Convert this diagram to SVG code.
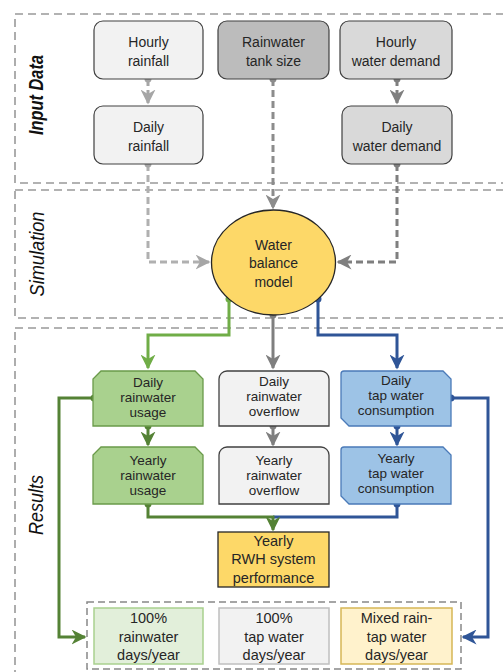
<svg xmlns="http://www.w3.org/2000/svg" width="503" height="672" viewBox="0 0 503 672">
<defs>
<style>
text{font-family:"Liberation Sans",Arial,sans-serif;fill:#262626;text-anchor:middle}
.t{font-size:14px}
.r{font-size:13.5px}
.t2{font-size:14.5px}
.sec{font-size:21px;font-style:italic;fill:#111}
.frame{fill:none;stroke:#999;stroke-width:1.6;stroke-dasharray:8 5}
.c{fill:none;stroke-width:3}
.d{stroke-dasharray:7 4}
</style>
<marker id="aL" viewBox="0 0 10 10" markerUnits="userSpaceOnUse" markerWidth="15" markerHeight="15" refX="9" refY="5" orient="auto"><path d="M0,0 L10,5 L0,10 L3,5 Z" fill="#a6a6a6"/></marker>
<marker id="aM" viewBox="0 0 10 10" markerUnits="userSpaceOnUse" markerWidth="15" markerHeight="15" refX="9" refY="5" orient="auto"><path d="M0,0 L10,5 L0,10 L3,5 Z" fill="#8c8c8c"/></marker>
<marker id="aD" viewBox="0 0 10 10" markerUnits="userSpaceOnUse" markerWidth="15" markerHeight="15" refX="9" refY="5" orient="auto"><path d="M0,0 L10,5 L0,10 L3,5 Z" fill="#7f7f7f"/></marker>
<marker id="aG" viewBox="0 0 10 10" markerUnits="userSpaceOnUse" markerWidth="15" markerHeight="15" refX="9" refY="5" orient="auto"><path d="M0,0 L10,5 L0,10 L3,5 Z" fill="#70ad47"/></marker>
<marker id="aGD" viewBox="0 0 10 10" markerUnits="userSpaceOnUse" markerWidth="15" markerHeight="15" refX="9" refY="5" orient="auto"><path d="M0,0 L10,5 L0,10 L3,5 Z" fill="#548235"/></marker>
<marker id="aB" viewBox="0 0 10 10" markerUnits="userSpaceOnUse" markerWidth="15" markerHeight="15" refX="9" refY="5" orient="auto"><path d="M0,0 L10,5 L0,10 L3,5 Z" fill="#2f5597"/></marker>
</defs>
<rect width="503" height="672" fill="#fff"/>

<g id="sections">
<rect class="frame" x="15" y="14" width="520" height="169"/>
<rect class="frame" x="15" y="190" width="520" height="128"/>
<rect class="frame" x="15" y="328" width="520" height="370"/>
<text class="sec" font-weight="bold" x="43" y="95" textLength="80" lengthAdjust="spacingAndGlyphs" transform="rotate(-90 43 95)">Input Data</text>
<text class="sec" x="44" y="254" textLength="85" lengthAdjust="spacingAndGlyphs" transform="rotate(-90 44 254)">Simulation</text>
<text class="sec" x="43" y="505" textLength="60" lengthAdjust="spacingAndGlyphs" transform="rotate(-90 43 505)">Results</text>
<rect x="87" y="602" width="374" height="67" fill="none" stroke="#888" stroke-width="1.5" stroke-dasharray="7 4"/>
</g>

<g id="connectors">
<path class="c d" stroke="#a6a6a6" d="M148,79 V103" marker-end="url(#aL)"/>
<circle cx="148" cy="79" r="3.5" fill="#a6a6a6"/>
<path class="c d" stroke="#7f7f7f" d="M397,79 V103" marker-end="url(#aD)"/>
<circle cx="397" cy="79" r="3.5" fill="#7f7f7f"/>
<path class="c d" stroke="#b0b0b0" d="M148,164 V262 H209" marker-end="url(#aL)"/>
<circle cx="148" cy="164" r="3.5" fill="#a6a6a6"/>
<path class="c d" stroke="#8c8c8c" d="M273,79 V208" marker-end="url(#aM)"/>
<circle cx="273" cy="79" r="3.5" fill="#8c8c8c"/>
<path class="c d" stroke="#7f7f7f" d="M397,164 V262 H338" marker-end="url(#aD)"/>
<circle cx="397" cy="164" r="3.5" fill="#7f7f7f"/>

<path class="c" stroke="#70ad47" d="M229,299 V335 H148 V368" marker-end="url(#aG)"/>
<circle cx="229" cy="299" r="3.5" fill="#70ad47"/>
<path class="c" stroke="#7f7f7f" d="M273,315 V368" marker-end="url(#aD)"/>
<circle cx="273" cy="315" r="3.5" fill="#7f7f7f"/>
<path class="c" stroke="#2f5597" d="M318,299 V335 H397 V368" marker-end="url(#aB)"/>
<circle cx="318" cy="299" r="3.5" fill="#2f5597"/>

<path class="c" stroke="#548235" d="M148,426 V445" marker-end="url(#aGD)"/>
<circle cx="148" cy="426" r="3.5" fill="#548235"/>
<path class="c" stroke="#7f7f7f" d="M273,426 V445" marker-end="url(#aD)"/>
<circle cx="273" cy="426" r="3.5" fill="#7f7f7f"/>
<path class="c" stroke="#2f5597" d="M397,426 V445" marker-end="url(#aB)"/>
<circle cx="397" cy="426" r="3.5" fill="#2f5597"/>

<path class="c" stroke="#548235" d="M94,398 H59 V637 H85" marker-end="url(#aGD)"/>
<circle cx="94" cy="398" r="3.5" fill="#548235"/>
<path class="c" stroke="#2f5597" d="M451,398 H488 V637 H463" marker-end="url(#aB)"/>
<circle cx="451" cy="398" r="3.5" fill="#2f5597"/>

<path class="c" stroke="#2f5597" d="M397,504 V517 H273"/>
<circle cx="397" cy="504" r="3.5" fill="#2f5597"/>
<path class="c" stroke="#548235" d="M148,504 V517 H273 V530" marker-end="url(#aGD)"/>
<circle cx="148" cy="504" r="3.5" fill="#548235"/>
</g>

<g id="hourly-rainfall">
<rect x="94" y="21" width="109" height="58" rx="9" fill="#f2f2f2" stroke="#404040" stroke-width="1.2"/>
<text class="t" x="148.5" y="47">Hourly</text>
<text class="t" x="148.5" y="66">rainfall</text>
</g>
<g id="tank-size">
<rect x="218" y="21" width="111" height="58" rx="9" fill="#bcbcbc" stroke="#404040" stroke-width="1.2"/>
<text class="t" x="273.5" y="47">Rainwater</text>
<text class="t" x="273.5" y="66">tank size</text>
</g>
<g id="hourly-demand">
<rect x="340" y="21" width="112" height="58" rx="9" fill="#d9d9d9" stroke="#404040" stroke-width="1.2"/>
<text class="t" x="396" y="47">Hourly</text>
<text class="t" x="396" y="66">water demand</text>
</g>
<g id="daily-rainfall">
<rect x="94" y="106" width="109" height="58" rx="9" fill="#f2f2f2" stroke="#404040" stroke-width="1.2"/>
<text class="t" x="148.5" y="132">Daily</text>
<text class="t" x="148.5" y="151">rainfall</text>
</g>
<g id="daily-demand">
<rect x="342" y="106" width="110" height="58" rx="9" fill="#d9d9d9" stroke="#404040" stroke-width="1.2"/>
<text class="t" x="397" y="132">Daily</text>
<text class="t" x="397" y="151">water demand</text>
</g>

<g id="water-balance-model">
<ellipse cx="273.5" cy="262.5" rx="62" ry="52.5" fill="#fdd868" stroke="#262626" stroke-width="1.3"/>
<text class="t" x="273.5" y="250">Water</text>
<text class="t" x="273.5" y="268">balance</text>
<text class="t" x="273.5" y="287">model</text>
</g>

<g id="daily-usage">
<path d="M101,371 H195 L203,379 V426 H93 V379 Z" fill="#a9d18e" stroke="#6a9a4a" stroke-width="1.3"/>
<text class="r" x="148" y="387">Daily</text>
<text class="r" x="148" y="402">rainwater</text>
<text class="r" x="148" y="417">usage</text>
</g>
<g id="daily-overflow">
<path d="M227,371 H321 A8,8 0 0 1 329,379 V426 H219 V379 A8,8 0 0 1 227,371 Z" fill="#f2f2f2" stroke="#404040" stroke-width="1.3"/>
<text class="r" x="274" y="386">Daily</text>
<text class="r" x="274" y="401">rainwater</text>
<text class="r" x="274" y="416">overflow</text>
</g>
<g id="daily-tap">
<path d="M344,371 H443 L451,379 V426 H349 L341,418 V374 Q341,371 344,371 Z" fill="#9dc3e6" stroke="#4a7ab8" stroke-width="1.3"/>
<text class="r" x="396" y="385">Daily</text>
<text class="r" x="396" y="400">tap water</text>
<text class="r" x="396" y="415">consumption</text>
</g>
<g id="yearly-usage">
<path d="M101,447 H195 L203,455 V504 H93 V455 Z" fill="#a9d18e" stroke="#6a9a4a" stroke-width="1.3"/>
<text class="r" x="148" y="465">Yearly</text>
<text class="r" x="148" y="480">rainwater</text>
<text class="r" x="148" y="495">usage</text>
</g>
<g id="yearly-overflow">
<path d="M227,447 H321 A8,8 0 0 1 329,455 V504 H219 V455 A8,8 0 0 1 227,447 Z" fill="#f2f2f2" stroke="#404040" stroke-width="1.3"/>
<text class="r" x="274" y="465">Yearly</text>
<text class="r" x="274" y="480">rainwater</text>
<text class="r" x="274" y="495">overflow</text>
</g>
<g id="yearly-tap">
<path d="M344,447 H443 L451,455 V504 H349 L341,496 V450 Q341,447 344,447 Z" fill="#9dc3e6" stroke="#4a7ab8" stroke-width="1.3"/>
<text class="r" x="396" y="463">Yearly</text>
<text class="r" x="396" y="478">tap water</text>
<text class="r" x="396" y="493">consumption</text>
</g>

<g id="rwh-performance">
<rect x="218" y="532" width="111" height="55" fill="#fdd868" stroke="#262626" stroke-width="1.3"/>
<text class="t2" x="273.5" y="546">Yearly</text>
<text class="t2" x="273.5" y="564">RWH system</text>
<text class="t2" x="273.5" y="583">performance</text>
</g>

<g id="rainwater-days">
<rect x="94" y="608" width="109" height="56" fill="#e2efda" stroke="#a9d18e" stroke-width="1.5"/>
<text class="t2" x="148.5" y="623">100%</text>
<text class="t2" x="148.5" y="642">rainwater</text>
<text class="t2" x="148.5" y="660">days/year</text>
</g>
<g id="tap-days">
<rect x="219" y="608" width="110" height="56" fill="#f2f2f2" stroke="#bfbfbf" stroke-width="1.5"/>
<text class="t2" x="274" y="623">100%</text>
<text class="t2" x="274" y="642">tap water</text>
<text class="t2" x="274" y="660">days/year</text>
</g>
<g id="mixed-days">
<rect x="341" y="608" width="111" height="56" fill="#fff2cc" stroke="#d6b656" stroke-width="1.5"/>
<text class="t2" x="396.5" y="623">Mixed rain-</text>
<text class="t2" x="396.5" y="642">tap water</text>
<text class="t2" x="396.5" y="660">days/year</text>
</g>
</svg>
